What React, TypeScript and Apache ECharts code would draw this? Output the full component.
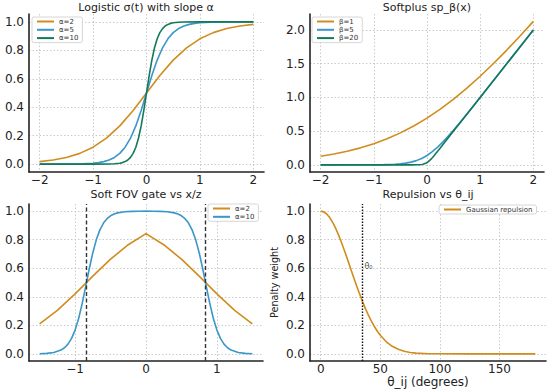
import React, { useEffect, useRef } from 'react';
import * as echarts from 'echarts';

// ---------- data ----------
const tickLogX = [-2, -1, 0, 1, 2];
const tickUnitY = [0, 0.2, 0.4, 0.6, 0.8, 1.0];
const tickSpY = [0, 0.5, 1.0, 1.5, 2.0];
const tickFovX = [-1, 0, 1];
const tickRepX = [0, 50, 100, 150];

// Logistic
const logX2 = [-2, -1.75, -1.5, -1.25, -1, -0.75, -0.5, -0.25, 0, 0.25, 0.5, 0.75, 1, 1.25, 1.5, 1.75, 2];
const logA2 = [0.018, 0.0293, 0.0474, 0.0759, 0.1192, 0.1824, 0.2689, 0.3775, 0.5, 0.6225, 0.7311, 0.8176, 0.8808, 0.9241, 0.9526, 0.9707, 0.982];
const logX5 = [-2, -1.5, -1.2, -1, -0.9, -0.8, -0.7, -0.6, -0.5, -0.4, -0.3, -0.2, -0.1, 0, 0.1, 0.2, 0.3, 0.4, 0.5, 0.6, 0.7, 0.8, 0.9, 1, 1.2, 1.5, 2];
const logA5 = [0.00005, 0.00055, 0.0025, 0.0067, 0.011, 0.018, 0.0293, 0.0474, 0.0759, 0.1192, 0.1824, 0.2689, 0.3775, 0.5, 0.6225, 0.7311, 0.8176, 0.8808, 0.9241, 0.9526, 0.9707, 0.982, 0.989, 0.9933, 0.9975, 0.99945, 0.99995];
const logX10 = [-2, -1, -0.7, -0.6, -0.5, -0.45, -0.4, -0.35, -0.3, -0.25, -0.2, -0.15, -0.1, -0.05, 0, 0.05, 0.1, 0.15, 0.2, 0.25, 0.3, 0.35, 0.4, 0.45, 0.5, 0.6, 0.7, 1, 2];
const logA10 = [0, 0.00005, 0.0009, 0.0025, 0.0067, 0.011, 0.018, 0.0293, 0.0474, 0.0759, 0.1192, 0.1824, 0.2689, 0.3775, 0.5, 0.6225, 0.7311, 0.8176, 0.8808, 0.9241, 0.9526, 0.9707, 0.982, 0.989, 0.9933, 0.9975, 0.9991, 0.99995, 1];

// Softplus
const spX1 = [-2, -1.75, -1.5, -1.25, -1, -0.75, -0.5, -0.25, 0, 0.25, 0.5, 0.75, 1, 1.25, 1.5, 1.75, 2];
const spB1 = [0.1269, 0.1602, 0.2014, 0.2519, 0.3133, 0.3869, 0.4741, 0.5759, 0.6931, 0.8259, 0.9741, 1.1369, 1.3133, 1.5019, 1.7014, 1.9102, 2.1269];
const spX5 = [-2, -1, -0.8, -0.6, -0.5, -0.4, -0.3, -0.2, -0.1, 0, 0.1, 0.2, 0.3, 0.4, 0.5, 0.6, 0.7, 0.8, 1, 1.5, 2];
const spB5 = [0.00001, 0.0013, 0.0036, 0.0097, 0.0151, 0.0254, 0.0403, 0.0627, 0.0948, 0.1386, 0.1948, 0.2627, 0.3403, 0.4254, 0.5158, 0.6097, 0.7059, 0.8036, 1.0013, 1.5001, 2.0];
const spX20 = [-2, -1, -0.3, -0.2, -0.15, -0.1, -0.075, -0.05, -0.025, 0, 0.025, 0.05, 0.075, 0.1, 0.125, 0.15, 0.2, 0.25, 0.3, 0.5, 1, 2];
const spB20 = [0, 0, 0.0001, 0.0009, 0.0024, 0.0063, 0.0101, 0.0157, 0.0237, 0.0347, 0.0487, 0.0657, 0.0851, 0.1063, 0.1287, 0.1524, 0.2009, 0.2503, 0.3001, 0.5, 1.0, 2.0];

// Soft FOV gate
const fovX2 = [-1.5, -1.25, -1, -0.75, -0.5, -0.25, 0, 0.25, 0.5, 0.75, 1, 1.25, 1.5];
const gateA2 = [0.2105, 0.3053, 0.4202, 0.5444, 0.6633, 0.7646, 0.8427, 0.7646, 0.6633, 0.5444, 0.4202, 0.3053, 0.2105];
const fovX10 = [-1.5, -1.4, -1.3, -1.2, -1.15, -1.1, -1.05, -1.0, -0.95, -0.9, -0.85, -0.8, -0.75, -0.7, -0.65, -0.6, -0.55, -0.5, -0.45, -0.4, -0.3, -0.2, -0.1, 0,
  0.1, 0.2, 0.3, 0.4, 0.45, 0.5, 0.55, 0.6, 0.65, 0.7, 0.75, 0.8, 0.85, 0.9, 0.95, 1.0, 1.05, 1.1, 1.15, 1.2, 1.3, 1.4, 1.5];
const gateA10 = [0.0013, 0.0037, 0.0099, 0.0263, 0.0427, 0.0685, 0.1081, 0.1666, 0.2479, 0.3521, 0.4725, 0.5963, 0.7089, 0.8006, 0.8688, 0.9161, 0.9473, 0.9674, 0.9802, 0.9878, 0.9955, 0.9983, 0.9994, 0.9998,
  0.9994, 0.9983, 0.9955, 0.9878, 0.9802, 0.9674, 0.9473, 0.9161, 0.8688, 0.8006, 0.7089, 0.5963, 0.4725, 0.3521, 0.2479, 0.1666, 0.1081, 0.0685, 0.0427, 0.0263, 0.0099, 0.0037, 0.0013];
const fovEdges = [-0.839, 0.839];

// Repulsion
const repTheta = [0, 2.5, 5, 7.5, 10, 12.5, 15, 17.5, 20, 22.5, 25, 27.5, 30, 32.5, 35, 37.5, 40, 42.5, 45, 47.5, 50, 55, 60, 65, 70, 75, 80, 90, 100, 120, 150, 180];
const repW = [1, 0.9949, 0.9798, 0.9551, 0.9216, 0.8804, 0.8322, 0.7788, 0.7214, 0.6613, 0.6004, 0.5393, 0.4797, 0.4224, 0.3679, 0.3173, 0.2709, 0.2290, 0.1915, 0.1585, 0.1299, 0.0846, 0.0529, 0.0318, 0.0183, 0.0101, 0.0054, 0.0013, 0.0003, 0, 0, 0];
const theta0 = 35;
const theta0Label = [35, 0.615];

// ---------- style ----------
const ORANGE = '#D08D1D';
const BLUE = '#3A97C8';
const GREEN = '#13795A';
const FONT = 'DejaVu Sans';
const INK = '#222';

const pairs = (xs: number[], ys: number[]) => xs.map((x, i) => [x, ys[i]]);
const fmtX = (v: number) => (v < 0 ? '\u2212' + Math.abs(v) : String(v));
const fmtY = (v: number) => v.toFixed(1);

function axis(gi: number, min: number, max: number, ticks: number[], fmt: (v: number) => string, isX: boolean, extra: any = {}) {
  return {
    type: 'value',
    gridIndex: gi,
    min,
    max,
    axisLine: { show: true, onZero: false, lineStyle: { color: INK, width: 1.6 } },
    axisTick: { show: false, customValues: ticks },
    axisLabel: {
      customValues: ticks,
      formatter: fmt,
      fontSize: 12,
      fontFamily: FONT,
      color: INK,
      margin: isX ? 2 : 5,
    },
    splitLine: { show: true, lineStyle: { color: '#bdbdbd', type: [1.5, 2], width: 0.8 } },
    ...extra,
  };
}

function line(name: string, gi: number, data: number[][], color: string, extra: any = {}) {
  return {
    type: 'line',
    name,
    xAxisIndex: gi,
    yAxisIndex: gi,
    data,
    symbol: 'none',
    showSymbol: false,
    smooth: false,
    lineStyle: { color, width: 1.6, join: 'round' },
    itemStyle: { color },
    ...extra,
  };
}

function legend(left: number, top: number, data: string[], extra: any = {}) {
  return {
    show: true,
    left,
    top,
    orient: 'vertical',
    data,
    selectedMode: false,
    backgroundColor: '#fff',
    borderColor: '#cccccc',
    borderWidth: 0.8,
    borderRadius: 2,
    padding: [1, 4, 1, 4],
    itemWidth: 17,
    itemHeight: 7,
    itemGap: 1.3,
    itemStyle: { opacity: 0 },
    textStyle: { fontSize: 7, fontFamily: FONT, color: '#333', lineHeight: 7 },
    ...extra,
  };
}

function title(x: number, y: number, text: string) {
  return {
    type: 'text',
    x,
    y,
    style: { text, fontSize: 11, fontFamily: FONT, fill: INK, align: 'center', verticalAlign: 'middle' },
  };
}

export default function App() {
  const ref = useRef<HTMLDivElement>(null);
  useEffect(() => {
    if (!ref.current) return;
    const chart = echarts.init(ref.current, null, { renderer: 'svg' });
    const option: any = {
      animation: false,
      backgroundColor: '#fff',
      grid: [
        { left: 29, top: 14, width: 235, height: 158 },
        { left: 310, top: 14, width: 234, height: 158 },
        { left: 29, top: 204, width: 234, height: 157 },
        { left: 310, top: 204, width: 236, height: 157 },
      ],
      xAxis: [
        axis(0, -2.2, 2.2, tickLogX, fmtX, true),
        axis(1, -2.2, 2.2, tickLogX, fmtX, true),
        axis(2, -1.65, 1.65, tickFovX, fmtX, true),
        axis(3, -9, 189, tickRepX, fmtX, true, {
          name: 'θ_ij (degrees)',
          nameLocation: 'middle',
          nameGap: 12,
          nameTextStyle: { fontSize: 12, fontFamily: FONT, color: INK },
        }),
      ],
      yAxis: [
        axis(0, -0.055, 1.055, tickUnitY, fmtY, false),
        axis(1, -0.106, 2.236, tickSpY, fmtY, false),
        axis(2, -0.05, 1.05, tickUnitY, fmtY, false),
        axis(3, -0.05, 1.05, tickUnitY, fmtY, false, {
          name: 'Penalty weight',
          nameLocation: 'middle',
          nameGap: 31,
          nameRotate: 90,
          nameTextStyle: { fontSize: 9.6, fontFamily: FONT, color: INK },
        }),
      ],
      legend: [
        legend(32, 17, ['α=2', 'α=5', 'α=10']),
        legend(312, 17, ['β=1', 'β=5', 'β=20']),
        legend(208, 204, ['gate α=2', 'gate α=10'], { formatter: (n: string) => n.replace('gate ', '') }),
        legend(439, 205, ['Gaussian repulsion']),
      ],
      graphic: [
        title(146, 7, 'Logistic σ(t) with slope α'),
        title(427, 7, 'Softplus sp_β(x)'),
        title(146, 194, 'Soft FOV gate vs x/z'),
        title(428, 194, 'Repulsion vs θ_ij'),
      ],
      series: [
        line('α=2', 0, pairs(logX2, logA2), ORANGE),
        line('α=5', 0, pairs(logX5, logA5), BLUE),
        line('α=10', 0, pairs(logX10, logA10), GREEN),
        line('β=1', 1, pairs(spX1, spB1), ORANGE),
        line('β=5', 1, pairs(spX5, spB5), BLUE),
        line('β=20', 1, pairs(spX20, spB20), GREEN),
        line('gate α=2', 2, pairs(fovX2, gateA2), ORANGE),
        line('gate α=10', 2, pairs(fovX10, gateA10), BLUE, {
          markLine: {
            silent: true,
            symbol: 'none',
            label: { show: false },
            lineStyle: { color: '#333', type: [4, 2.5], width: 1.4 },
            data: fovEdges.map((v) => ({ xAxis: v })),
          },
        }),
        line('Gaussian repulsion', 3, pairs(repTheta, repW), ORANGE, {
          markLine: {
            silent: true,
            symbol: 'none',
            label: { show: false },
            lineStyle: { color: '#111', type: [1.5, 1.5], width: 1.4 },
            data: [{ xAxis: theta0 }],
          },
        }),
        {
          type: 'scatter',
          xAxisIndex: 3,
          yAxisIndex: 3,
          data: [theta0Label],
          symbolSize: 0,
          silent: true,
          label: {
            show: true,
            position: 'right',
            distance: 2,
            formatter: 'θ₀',
            fontSize: 8,
            fontFamily: FONT,
            color: INK,
          },
        },
      ],
    };
    chart.setOption(option);
    return () => chart.dispose();
  }, []);
  return <div ref={ref} style={{ position: 'fixed', left: 0, top: 0, width: 550, height: 390 }} />;
}
